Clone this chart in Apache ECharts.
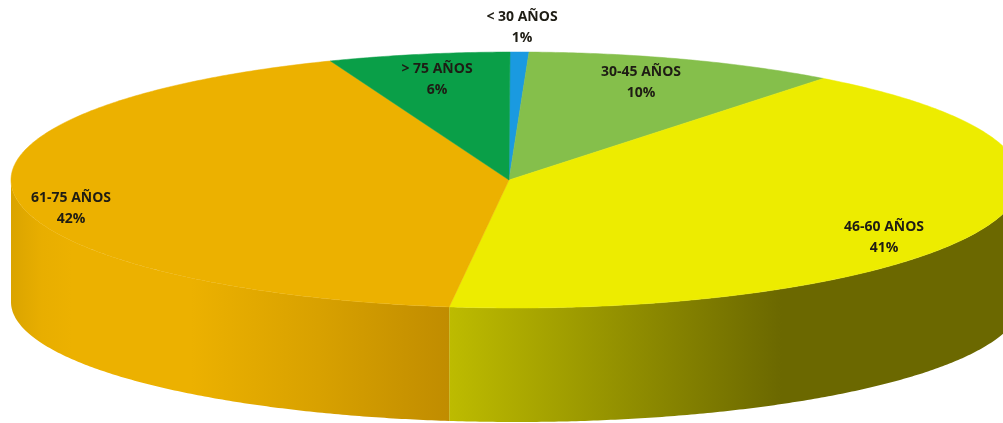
<!DOCTYPE html>
<html>
<head>
<meta charset="utf-8">
<style>html,body{margin:0;padding:0;background:#fff}#c{width:1003px;height:423px}</style>
<script src="https://cdn.jsdelivr.net/npm/echarts@6/dist/echarts.min.js"></script>
</head>
<body>
<div id="c"></div>
<script>
// Data
const categories = ['< 30 AÑOS', '30-45 AÑOS', '46-60 AÑOS', '61-75 AÑOS', '> 75 AÑOS'];
const shares = [0.6, 10, 41.7, 41.9, 5.8];
const percentLabels = ['1%', '10%', '41%', '42%', '6%'];
const topColors = ['#1A9AE0', '#85BF4B', '#EDEC00', '#ECB100', '#0A9F48'];

// Layout and styling
const top3d = {cx: 516, cy: 180, rx: 505, ry: 128};
const bottom3d = {cx: 516, cy: 302, rx: 505, ry: 120};
const apex = {x: 509, y: 180};
const startDeg = -0.68;
const labelCenters = [[522, 28], [641, 83], [437, 80], [71, 209], [884, 238]];
const labelOrder = [0, 1, 4, 3, 2];
const wallStops = {
  2: {x0: 450, x1: 1003, stops: [[0, '#BDBB00'], [0.6, '#6B6800'], [1, '#6B6800']]},
  3: {x0: 11, x1: 450, stops: [[0, '#DAA400'], [0.07, '#E8AE00'], [0.14, '#ECB100'], [0.41, '#ECB100'], [0.7, '#D8A100'], [1, '#C08C00']]}
};

const total = shares.reduce((a, b) => a + b, 0);
function pt(e, deg) {
  const r = deg * Math.PI / 180;
  return [e.cx + e.rx * Math.sin(r), e.cy - e.ry * Math.cos(r)];
}
function arc(e, a, b) {
  const out = [], n = Math.max(2, Math.ceil(Math.abs(b - a) / 0.5));
  for (let i = 0; i <= n; i++) out.push(pt(e, a + (b - a) * i / n));
  return out;
}

function renderItem(params, api) {
  const i = params.dataIndex;
  let before = 0;
  for (let k = 0; k < i; k++) before += shares[k];
  const a = startDeg + before / total * 360;
  const b = a + api.value(0) / total * 360;
  const children = [];
  const w = wallStops[i];
  if (w) {
    const from = Math.max(a, 90), to = Math.min(b, 270);
    const wall = arc(top3d, from, to).concat(arc(bottom3d, to, from));
    children.push({
      type: 'polygon',
      shape: {points: wall},
      style: {
        fill: new echarts.graphic.LinearGradient(w.x0, 0, w.x1, 0,
          w.stops.map(s => ({offset: s[0], color: s[1]})), true)
      }
    });
  }
  children.push({
    type: 'polygon',
    shape: {points: [[apex.x, apex.y]].concat(arc(top3d, a, b))},
    style: {fill: topColors[i], stroke: topColors[i], lineWidth: 0.5}
  });
  return {type: 'group', children};
}

function renderLabel(params, api) {
  const i = params.dataIndex;
  const c = labelCenters[labelOrder.indexOf(i)];
  return {
    type: 'text',
    x: c[0], y: c[1],
    style: {
      text: categories[i] + '\n' + percentLabels[i],
      fill: '#1E1C14',
      font: '700 14px "Open Sans"',
      lineHeight: 21,
      align: 'center',
      verticalAlign: 'middle'
    }
  };
}

const chart = echarts.init(document.getElementById('c'), null, {renderer: 'canvas'});
chart.setOption({
  animation: false,
  backgroundColor: '#fff',
  series: [
    {type: 'custom', coordinateSystem: 'none', silent: true, z: 1, renderItem, data: shares.map(v => [v])},
    {type: 'custom', coordinateSystem: 'none', silent: true, z: 2, renderItem: renderLabel, data: shares.map(v => [v])}
  ]
});
</script>
</body>
</html>
